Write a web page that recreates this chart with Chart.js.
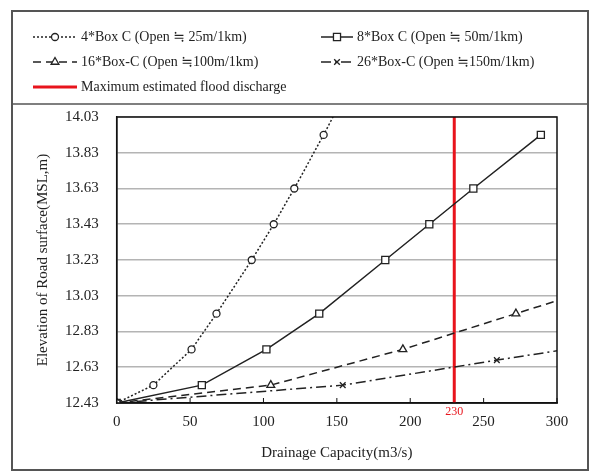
<!DOCTYPE html>
<html>
<head>
<meta charset="utf-8">
<script src="https://cdn.jsdelivr.net/npm/chart.js@4.4.1/dist/chart.umd.min.js"></script>
<style>
  html, body { margin: 0; padding: 0; background: #fff; }
  #wrap { width: 589px; height: 471px; }
</style>
</head>
<body>
<div id="wrap"><canvas id="myChart" width="589" height="471"></canvas></div>
<script>
// drainage capacity (m3/s) vs road surface elevation (MSL, m)
const box4X = [0, 25, 51, 68, 92, 107, 121, 141, 160];
const box4Y = [12.43, 12.53, 12.73, 12.93, 13.23, 13.43, 13.63, 13.93, 14.23];
const box8X = [0, 58, 102, 138, 183, 213, 243, 289];
const box8Y = [12.43, 12.53, 12.73, 12.93, 13.23, 13.43, 13.63, 13.93];
const box16X = [0, 105, 195, 272, 330];
const box16Y = [12.43, 12.53, 12.73, 12.93, 13.08];
const box26X = [0, 154, 259, 330];
const box26Y = [12.43, 12.53, 12.67, 12.76];
const floodX = 230;
const xTicks = [0, 50, 100, 150, 200, 250, 300];
const yTicks = [12.43, 12.63, 12.83, 13.03, 13.23, 13.43, 13.63, 13.83, 14.03];
const labels = [
  '4*Box C (Open \u2252 25m/1km)',
  '8*Box C (Open \u2252 50m/1km)',
  '16*Box-C (Open \u2252100m/1km)',
  '26*Box-C (Open \u2252150m/1km)',
  'Maximum estimated flood discharge'
];

const SERIF = '"Liberation Serif", "DejaVu Serif", serif';
const INK = '#222';

function pairs(xs, ys) {
  return xs.map((x, i) => ({ x: x, y: ys[i] }));
}

const data = {
  datasets: [{
    label: labels[0],
    data: pairs(box4X, box4Y),
    borderColor: INK, borderWidth: 1.5, borderDash: [2, 2],
    pointStyle: 'circle', pointRadius: 3.5,
    pointBackgroundColor: '#fff', pointBorderColor: INK, pointBorderWidth: 1.3
  }, {
    label: labels[1],
    data: pairs(box8X, box8Y),
    borderColor: INK, borderWidth: 1.5,
    pointStyle: 'rect', pointRadius: 5,
    pointBackgroundColor: '#fff', pointBorderColor: INK, pointBorderWidth: 1.3
  }, {
    label: labels[2],
    data: pairs(box16X, box16Y),
    borderColor: INK, borderWidth: 1.5, borderDash: [8, 5],
    pointStyle: 'triangle', pointRadius: 4.5,
    pointBackgroundColor: '#fff', pointBorderColor: INK, pointBorderWidth: 1.3
  }, {
    label: labels[3],
    data: pairs(box26X, box26Y),
    borderColor: INK, borderWidth: 1.5, borderDash: [10, 4, 2, 4],
    pointStyle: 'crossRot', pointRadius: 4,
    pointBorderColor: INK, pointBorderWidth: 1.3
  }, {
    label: labels[4],
    data: [{ x: floodX, y: yTicks[0] }, { x: floodX, y: yTicks[yTicks.length - 1] }],
    borderColor: '#e8141c', borderWidth: 3,
    pointRadius: 0
  }]
};

// legend, frame, inner x ticks and the red 230 label
const decor = {
  id: 'decor',
  beforeDraw(chart) {
    const ctx = chart.ctx;
    ctx.save();
    ctx.fillStyle = '#fff';
    ctx.fillRect(0, 0, chart.width, chart.height);
    ctx.restore();
  },
  afterDraw(chart) {
    const ctx = chart.ctx;
    const area = chart.chartArea;
    const xs = chart.scales.x;
    ctx.save();

    // plot box
    ctx.strokeStyle = '#111';
    ctx.lineWidth = 1.5;
    ctx.strokeRect(area.left, area.top, area.right - area.left, area.bottom - area.top);

    // small ticks pointing inward
    ctx.lineWidth = 1;
    xTicks.forEach(v => {
      const px = xs.getPixelForValue(v);
      ctx.beginPath();
      ctx.moveTo(px, area.bottom);
      ctx.lineTo(px, area.bottom - 5);
      ctx.stroke();
    });

    // red label for the flood discharge
    ctx.fillStyle = '#e8141c';
    ctx.font = '12px ' + SERIF;
    ctx.textAlign = 'center';
    ctx.textBaseline = 'middle';
    ctx.fillText(String(floodX), xs.getPixelForValue(floodX), 412);

    // outer frame and legend box
    ctx.strokeStyle = '#555';
    ctx.lineWidth = 2;
    ctx.strokeRect(12, 11, 576, 459);
    ctx.lineWidth = 1.5;
    ctx.beginPath();
    ctx.moveTo(12, 104);
    ctx.lineTo(589, 104);
    ctx.stroke();

    // legend entries
    const slots = [[33, 37], [321, 37], [33, 62], [321, 62], [33, 87]];
    const widths = [44, 32, 44, 32, 44];
    ctx.font = '14px ' + SERIF;
    ctx.textAlign = 'left';
    ctx.textBaseline = 'middle';
    chart.data.datasets.forEach((ds, i) => {
      const [x0, y0] = slots[i];
      const w = widths[i];
      ctx.strokeStyle = ds.borderColor;
      ctx.lineWidth = ds.borderWidth;
      ctx.setLineDash(ds.borderDash || []);
      ctx.beginPath();
      ctx.moveTo(x0, y0);
      ctx.lineTo(x0 + w, y0);
      ctx.stroke();
      ctx.setLineDash([]);
      if (ds.pointRadius) {
        ctx.fillStyle = ds.pointBackgroundColor || '#fff';
        ctx.strokeStyle = ds.pointBorderColor;
        ctx.lineWidth = ds.pointBorderWidth;
        Chart.helpers.drawPoint(ctx, {
          pointStyle: ds.pointStyle, radius: ds.pointRadius, borderWidth: ds.pointBorderWidth, rotation: 0
        }, x0 + w / 2, y0);
      }
      ctx.fillStyle = INK;
      ctx.fillText(ds.label, x0 + w + 4, y0);
    });
    ctx.restore();
  }
};

const config = {
  type: 'line',
  data: data,
  options: {
    responsive: false,
    animation: false,
    layout: { padding: { top: 117, right: 32, bottom: 0, left: 26 } },
    plugins: {
      legend: { display: false },
      tooltip: { enabled: false }
    },
    scales: {
      x: {
        type: 'linear',
        min: 0, max: 300,
        afterBuildTicks: s => { s.ticks = xTicks.map(v => ({ value: v })); },
        afterFit: s => { s.height = 68; },
        grid: { display: false, drawTicks: false },
        border: { display: true, color: '#111', width: 1.5 },
        ticks: { padding: 10, color: INK, font: { family: SERIF, size: 15 } },
        title: {
          display: true, text: 'Drainage Capacity(m3/s)', color: INK,
          font: { family: SERIF, size: 15 }, padding: { top: 0, bottom: 9 }
        }
      },
      y: {
        type: 'linear',
        min: 12.43, max: 14.03,
        afterBuildTicks: s => { s.ticks = yTicks.map(v => ({ value: v })); },
        afterFit: s => { s.width = 116.7 - 26; },
        grid: { color: '#b4b4b4', lineWidth: 1.5, drawTicks: false },
        border: { display: true, color: '#111', width: 1.5 },
        ticks: {
          padding: 18, color: INK, font: { family: SERIF, size: 15 },
          callback: v => Number(v).toFixed(2)
        },
        title: {
          display: true, text: 'Elevation of Road surface(MSL,m)', color: INK,
          font: { family: SERIF, size: 15 }, padding: { top: 8, bottom: 0 }
        }
      }
    }
  },
  plugins: [decor]
};

const myChart = new Chart(document.getElementById('myChart'), config);
</script>
</body>
</html>
